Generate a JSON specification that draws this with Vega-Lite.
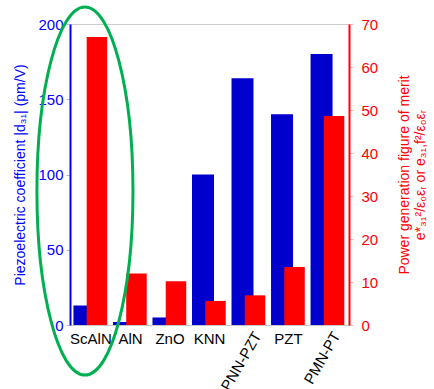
{
  "$schema": "https://vega.github.io/schema/vega-lite/v6.json",
  "autosize": {"type": "none"},
  "padding": {"left": 70, "top": 24, "right": 85, "bottom": 64},
  "width": 279,
  "height": 301,
  "config": {
    "font": "Liberation Sans",
    "view": {"stroke": "#cccccc", "strokeWidth": 1},
    "axis": {"grid": false, "labelFont": "Liberation Sans", "titleFont": "Liberation Sans", "titleFontWeight": "normal"}
  },
  "data": {
    "values": [
      {"material": "ScAlN", "d31": 13, "fom": 67},
      {"material": "AlN", "d31": 2, "fom": 12},
      {"material": "ZnO", "d31": 5, "fom": 10.2},
      {"material": "KNN", "d31": 100, "fom": 5.6},
      {"material": "PNN-PZT", "d31": 164, "fom": 6.9},
      {"material": "PZT", "d31": 140, "fom": 13.5},
      {"material": "PMN-PT", "d31": 180, "fom": 48.6}
    ]
  },
  "layer": [
    {
      "mark": {"type": "bar", "color": "#0000cc", "width": 22, "xOffset": -6.5},
      "encoding": {
        "x": {
          "field": "material", "type": "nominal", "sort": null,
          "scale": {"paddingInner": 0, "paddingOuter": 0.03},
          "axis": {
            "title": null, "labelAngle": 0, "labelFontSize": 15, "labelColor": "#000000",
            "domainColor": "#c8c8c8", "domainWidth": 1, "ticks": false, "labelPadding": 6,
            "labelOverlap": false,
            "labelExpr": "(datum.value == 'PNN-PZT' || datum.value == 'PMN-PT') ? '' : datum.value"
          }
        },
        "y": {
          "field": "d31", "type": "quantitative",
          "scale": {"domain": [0, 200], "nice": false},
          "axis": {
            "orient": "left", "values": [0, 50, 100, 150, 200],
            "title": "Piezoelectric coefficient |d₃₁| (pm/V)",
            "titleColor": "#0000ff", "titleFontSize": 14, "titlePadding": 10,
            "labelColor": "#0000ff", "labelFontSize": 15, "labelPadding": 3,
            "domainColor": "#0000ff", "domainWidth": 2,
            "tickColor": "#b8b8e8", "tickSize": 4
          }
        }
      }
    },
    {
      "mark": {"type": "bar", "color": "#ff0000", "width": 20.5, "xOffset": 6},
      "encoding": {
        "x": {"field": "material", "type": "nominal", "sort": null},
        "y": {
          "field": "fom", "type": "quantitative",
          "scale": {"domain": [0, 70], "nice": false},
          "axis": {
            "orient": "right", "values": [0, 10, 20, 30, 40, 50, 60, 70],
            "title": ["Power generation figure of merit", "e*₃₁²/ε₀εᵣ or e₃₁,f²/ε₀εᵣ                                 "],
            "titleAngle": -90, "titleColor": "#ff0000", "titleFontSize": 14, "titlePadding": 18, "titleLineHeight": 16,
            "labelColor": "#ff0000", "labelFontSize": 15, "labelPadding": 8,
            "domainColor": "#ff0000", "domainWidth": 2,
            "tickColor": "#f0b8b8", "tickSize": 4
          }
        }
      }
    },
    {
      "transform": [{"filter": "datum.material == 'PNN-PZT' || datum.material == 'PMN-PT'"}],
      "mark": {
        "type": "text", "angle": -60, "align": "right", "baseline": "middle",
        "fontSize": 15, "font": "Liberation Sans", "color": "#000000",
        "xOffset": 8.5, "yOffset": 8
      },
      "encoding": {
        "x": {"field": "material", "type": "nominal", "sort": null},
        "y": {"datum": 0, "type": "quantitative", "scale": {"domain": [0, 200], "nice": false}, "axis": null},
        "text": {"field": "material"}
      }
    },
    {
      "data": {"values": [{"material": "ScAlN", "center": 89}]},
      "mark": {
        "type": "point", "filled": false, "stroke": "#00b050", "strokeWidth": 3, "opacity": 1,
        "shape": "M0,-1A0.261,1,0,1,1,0,1A0.261,1,0,1,1,0,-1Z",
        "size": 135424, "xOffset": -6
      },
      "encoding": {
        "x": {"field": "material", "type": "nominal", "sort": null},
        "y": {"field": "center", "type": "quantitative", "scale": {"domain": [0, 200], "nice": false}, "axis": null}
      }
    }
  ],
  "resolve": {"scale": {"y": "independent"}, "axis": {"y": "independent"}}
}
